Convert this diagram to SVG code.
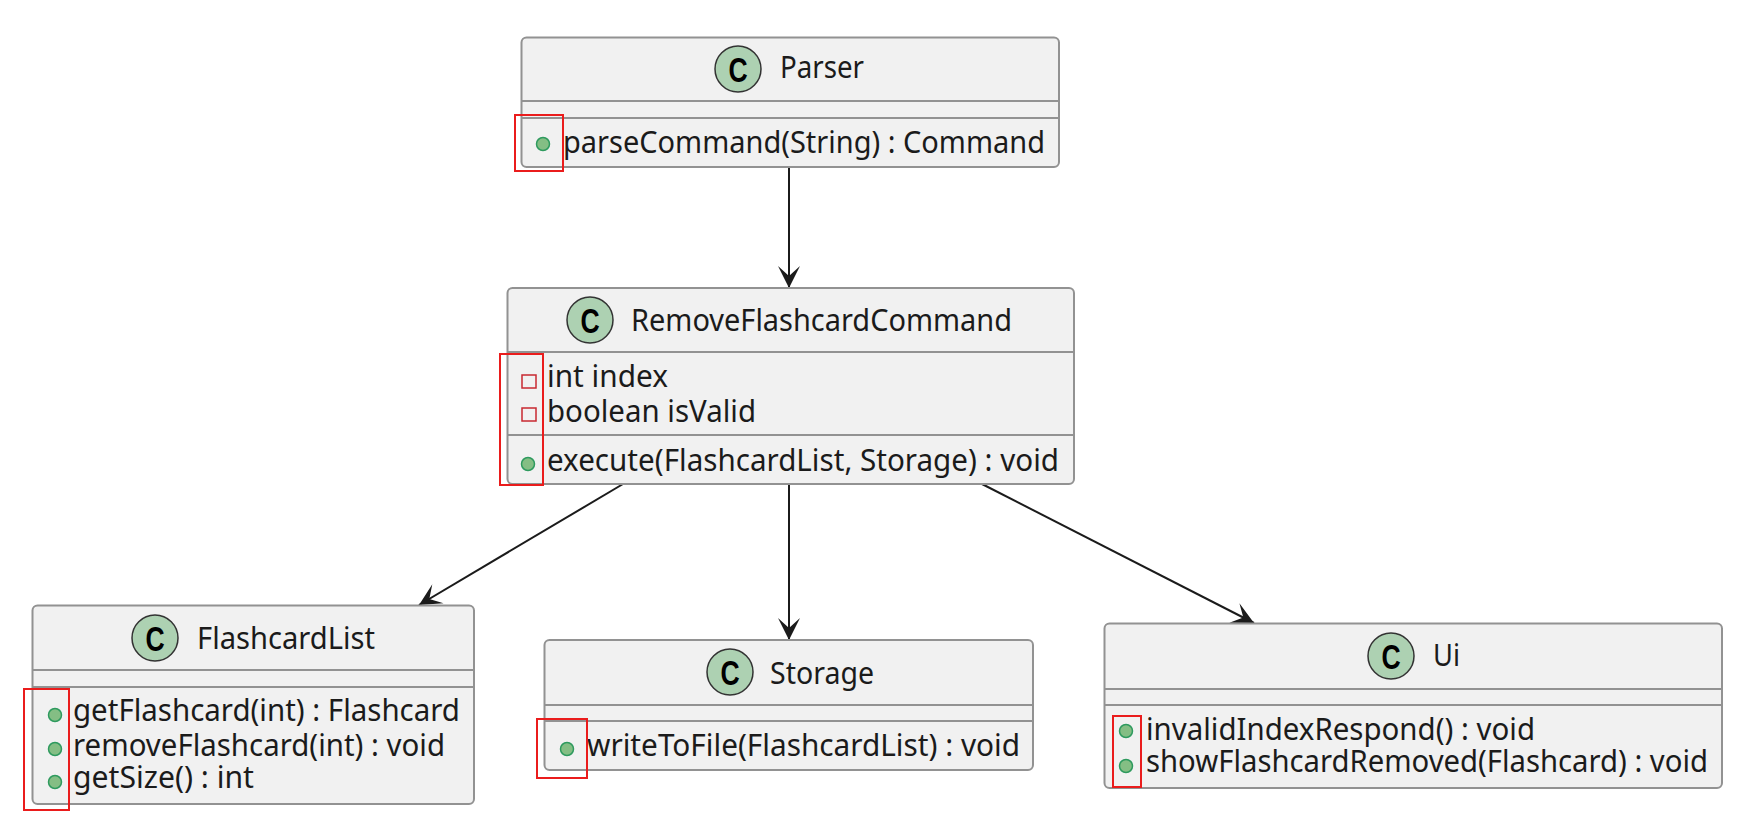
<svg xmlns="http://www.w3.org/2000/svg" width="1742" height="829" viewBox="0 0 1742 829">
<style>
text{font-family:"Noto Sans","Open Sans","DejaVu Sans",sans-serif;fill:#1b1b1b;font-size:30px}
.box{fill:#f1f1f1;stroke:#929292;stroke-width:2}
.div{stroke:#929292;stroke-width:2;fill:none}
.ci{fill:#add1b2;stroke:#333;stroke-width:1.5}
.c{font-family:"Liberation Sans","Noto Sans",sans-serif;font-size:35px;font-weight:700;fill:#000;text-anchor:middle}
.dot{fill:#84be84;stroke:#2e9a5e;stroke-width:1.5}
.sq{fill:none;stroke:#c82930;stroke-width:1.5}
.red{fill:none;stroke:#ea1c1c;stroke-width:2}
.e{stroke:#1b1b1b;stroke-width:2;fill:none;marker-end:url(#a)}
</style>
<defs>
<marker id="a" markerUnits="userSpaceOnUse" markerWidth="26" markerHeight="26" refX="24" refY="13" orient="auto" viewBox="0 0 26 26"><path d="M2 2L24 13L2 24L12 13Z" fill="#1b1b1b"/></marker>
</defs>
<rect width="1742" height="829" fill="#fff"/>
<g id="connectors">
<path class="e" d="M789 167V288"/>
<path class="e" d="M623 484L419 605"/>
<path class="e" d="M789 484V640"/>
<path class="e" d="M982 484L1254 623"/>
</g>
<g id="parser">
<rect class="box" x="521.5" y="37.5" width="537.5" height="129.5" rx="5"/>
<path class="div" d="M521.5 101H1059M521.5 118H1059"/>
<circle class="ci" cx="738" cy="69" r="23"/><text class="c" transform="translate(738 81.5) scale(.76 1)">C</text>
<text x="780" y="78" textLength="84" lengthAdjust="spacingAndGlyphs">Parser</text>
<circle class="dot" cx="543" cy="144" r="6.5"/>
<text x="563" y="153" textLength="482" lengthAdjust="spacingAndGlyphs">parseCommand(String) : Command</text>
<rect class="red" x="515" y="115" width="48" height="56"/>
</g>
<g id="removeflashcardcommand">
<rect class="box" x="507.5" y="288" width="566.5" height="196" rx="5"/>
<path class="div" d="M507.5 352H1074M507.5 435H1074"/>
<circle class="ci" cx="590" cy="320" r="23"/><text class="c" transform="translate(590 332.5) scale(.76 1)">C</text>
<text x="631" y="331" textLength="381" lengthAdjust="spacingAndGlyphs">RemoveFlashcardCommand</text>
<rect class="sq" x="522" y="375" width="14" height="13"/>
<rect class="sq" x="522" y="408" width="14" height="13"/>
<circle class="dot" cx="528" cy="464" r="6.5"/>
<text x="547" y="387" textLength="121" lengthAdjust="spacingAndGlyphs">int index</text>
<text x="547" y="422" textLength="209" lengthAdjust="spacingAndGlyphs">boolean isValid</text>
<text x="547" y="471" textLength="512" lengthAdjust="spacingAndGlyphs">execute(FlashcardList, Storage) : void</text>
<rect class="red" x="500" y="354" width="43" height="131"/>
</g>
<g id="flashcardlist">
<rect class="box" x="32.5" y="605.5" width="441.5" height="198.5" rx="5"/>
<path class="div" d="M32.5 670H474M32.5 687H474"/>
<circle class="ci" cx="155" cy="638" r="23"/><text class="c" transform="translate(155 650.5) scale(.76 1)">C</text>
<text x="197" y="649" textLength="178" lengthAdjust="spacingAndGlyphs">FlashcardList</text>
<circle class="dot" cx="55" cy="715" r="6.5"/><circle class="dot" cx="55" cy="749" r="6.5"/><circle class="dot" cx="55" cy="782" r="6.5"/>
<text x="73" y="721" textLength="387" lengthAdjust="spacingAndGlyphs">getFlashcard(int) : Flashcard</text>
<text x="73" y="756" textLength="372" lengthAdjust="spacingAndGlyphs">removeFlashcard(int) : void</text>
<text x="73" y="788" textLength="181" lengthAdjust="spacingAndGlyphs">getSize() : int</text>
<rect class="red" x="24" y="689" width="45" height="121"/>
</g>
<g id="storage">
<rect class="box" x="544.5" y="640" width="488.5" height="130" rx="5"/>
<path class="div" d="M544.5 705H1033M544.5 721H1033"/>
<circle class="ci" cx="730" cy="672" r="23"/><text class="c" transform="translate(730 684.5) scale(.76 1)">C</text>
<text x="770" y="684" textLength="104" lengthAdjust="spacingAndGlyphs">Storage</text>
<circle class="dot" cx="567" cy="749" r="6.5"/>
<text x="587" y="756" textLength="433" lengthAdjust="spacingAndGlyphs">writeToFile(FlashcardList) : void</text>
<rect class="red" x="537" y="719" width="50" height="59"/>
</g>
<g id="ui">
<rect class="box" x="1104.5" y="623.5" width="617.5" height="164.5" rx="5"/>
<path class="div" d="M1104.5 689H1722M1104.5 705H1722"/>
<circle class="ci" cx="1391" cy="656" r="23"/><text class="c" transform="translate(1391 668.5) scale(.76 1)">C</text>
<text x="1433" y="666" textLength="27" lengthAdjust="spacingAndGlyphs">Ui</text>
<circle class="dot" cx="1126" cy="731" r="6.5"/><circle class="dot" cx="1126" cy="766" r="6.5"/>
<text x="1146" y="740" textLength="389" lengthAdjust="spacingAndGlyphs">invalidIndexRespond() : void</text>
<text x="1146" y="772" textLength="562" lengthAdjust="spacingAndGlyphs">showFlashcardRemoved(Flashcard) : void</text>
<rect class="red" x="1113" y="716" width="28" height="71"/>
</g>
</svg>
